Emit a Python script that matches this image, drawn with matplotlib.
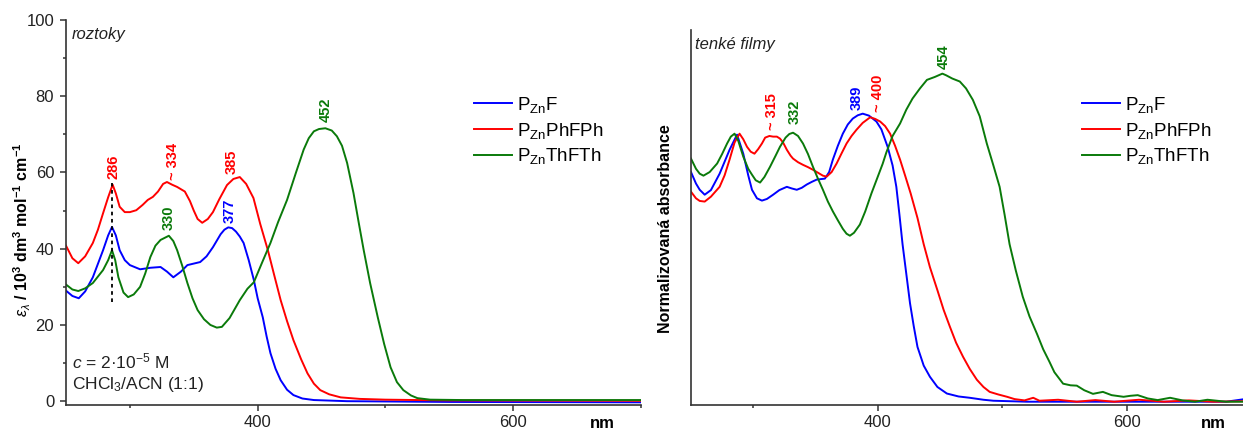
import matplotlib
matplotlib.use("Agg")
import matplotlib.pyplot as plt
from matplotlib.ticker import MultipleLocator, NullLocator

plt.rcParams['font.family'] = ['Liberation Sans', 'DejaVu Sans']
plt.rcParams['mathtext.fontset'] = 'custom'
plt.rcParams['mathtext.rm'] = 'Liberation Sans'
plt.rcParams['mathtext.it'] = 'Liberation Sans:italic'
plt.rcParams['mathtext.bf'] = 'Liberation Sans:bold'

# ---------------- data: solutions (left) ----------------
sol_F_wl = [250, 255, 260, 265, 271, 279, 283, 286, 289, 292, 296, 300, 308, 316, 324, 329, 334, 340, 345, 355,
            360, 365, 371, 374, 377, 380, 383, 386, 389, 393, 397, 400, 404, 407, 410, 414, 418, 423, 428, 435, 444, 470, 550, 700]
sol_F = [29.0, 27.6, 27.0, 28.8, 32.5, 39.6, 43.5, 45.7, 43.5, 39.6, 37.0, 35.7, 34.6, 35.0, 35.2, 34.0, 32.5, 34.0, 35.7, 36.5,
         38.0, 40.4, 43.8, 45.0, 45.6, 45.4, 44.5, 43.2, 41.5, 37.0, 31.8, 27.0, 22.0, 17.0, 12.6, 8.5, 5.5, 3.0, 1.6, 0.7, 0.3, 0.0, -0.2, -0.3]

sol_PhFPh_wl = [250, 255, 259.6, 265, 271, 275, 279, 283, 286.5, 289, 292, 296, 300, 305, 310, 314, 318, 322, 326, 329,
                333, 337, 343, 347, 350, 353, 356.6, 361, 365, 370, 376, 381, 386, 391, 396.7, 402, 408, 413, 418, 423,
                428, 434, 439, 444, 449, 456, 465, 480, 500, 550, 700]
sol_PhFPh = [40.8, 37.5, 36.2, 38.0, 41.5, 45.0, 49.3, 53.5, 56.8, 54.5, 51.0, 49.6, 49.6, 50.1, 51.5, 52.8, 53.6, 55.0, 57.0, 57.5,
             56.8, 56.2, 55.0, 52.5, 50.0, 47.8, 46.8, 47.8, 49.6, 53.0, 56.7, 58.3, 58.8, 57.0, 53.3, 46.5, 39.6, 33.0, 26.5, 21.0,
             16.0, 11.0, 7.3, 4.6, 2.9, 1.8, 1.0, 0.6, 0.4, 0.2, 0.1]

sol_ThFTh_wl = [250, 255, 259.6, 265, 271, 279, 283, 286, 288.5, 291, 295, 298.6, 303, 308, 312, 316, 320, 324, 330.5, 334,
                337, 341, 345, 349, 353, 358, 363, 368, 372, 378, 386, 392, 397, 403, 410, 416, 423, 430, 436, 440, 444,
                448, 453, 458, 462, 466, 470, 475, 479, 483, 488, 494, 499, 504, 509, 514, 520, 525, 535, 560, 700]
sol_ThFTh = [30.6, 29.3, 28.9, 29.6, 31.0, 34.4, 37.0, 39.6, 37.0, 32.5, 28.5, 27.3, 28.0, 30.0, 33.5, 37.8, 40.8, 42.3, 43.4, 42.0,
             39.6, 35.5, 31.0, 27.0, 23.9, 21.5, 20.0, 19.3, 19.5, 21.8, 26.5, 29.5, 31.2, 36.0, 41.5, 47.0, 52.8, 60.0, 66.0, 69.0, 70.8,
             71.4, 71.6, 71.0, 69.5, 67.0, 62.5, 54.6, 47.0, 39.6, 31.0, 22.0, 15.0, 8.9, 5.0, 2.9, 1.5, 0.8, 0.4, 0.3, 0.3]

# ---------------- data: thin films (right) ----------------
film_F_wl = [250, 254, 257, 261, 266, 273, 281, 287, 292, 296, 299, 303, 307, 311, 316, 321, 327, 331, 335, 339,
             343, 347, 351, 357.6, 361, 364, 368, 372, 376, 380, 384, 388, 393, 399, 403, 408, 412, 415, 417.5, 420,
             423, 426, 429, 432, 437, 442, 448, 455.6, 465, 474, 485, 493, 520, 600, 680, 695, 700]
film_F = [0.70, 0.665, 0.646, 0.631, 0.645, 0.695, 0.768, 0.814, 0.756, 0.69, 0.646, 0.62, 0.613, 0.618, 0.631, 0.645, 0.655, 0.650, 0.646, 0.652,
          0.662, 0.670, 0.677, 0.68, 0.70, 0.738, 0.78, 0.817, 0.845, 0.863, 0.873, 0.878, 0.872, 0.854, 0.83, 0.777, 0.72, 0.655, 0.57, 0.48,
          0.39, 0.30, 0.23, 0.167, 0.11, 0.076, 0.045, 0.025, 0.016, 0.012, 0.006, 0.003, 0.0, 0.0, 0.0, 0.008, 0.012]

film_PhFPh_wl = [250, 254, 257, 261, 266, 273, 277, 281, 285, 289, 292, 295, 298, 301, 304, 307, 309.6, 313, 316, 319,
                 321.5, 324, 327, 330, 332, 336, 340, 344, 348, 352, 356, 359, 363, 367, 371, 375, 379, 383, 388, 394,
                 398, 402, 406, 410, 414, 418, 422, 426.5, 432, 437, 442, 448, 453, 458, 463, 468.6, 474, 479.7, 485, 490,
                 497, 504, 510, 518, 525, 530, 545, 560, 575, 590, 610, 630, 650, 670, 700]
film_PhFPh = [0.64, 0.62, 0.612, 0.61, 0.625, 0.655, 0.69, 0.738, 0.79, 0.817, 0.80, 0.777, 0.762, 0.756, 0.77, 0.787, 0.805, 0.81, 0.808, 0.808,
              0.802, 0.79, 0.768, 0.75, 0.741, 0.73, 0.722, 0.715, 0.707, 0.698, 0.689, 0.686, 0.70, 0.726, 0.757, 0.787, 0.81, 0.829, 0.85, 0.867,
              0.862, 0.854, 0.84, 0.817, 0.78, 0.738, 0.69, 0.635, 0.56, 0.48, 0.41, 0.34, 0.28, 0.229, 0.18, 0.137, 0.10, 0.067, 0.045, 0.03,
              0.022, 0.015, 0.008, 0.004, 0.012, 0.003, 0.006, 0.0, 0.005, 0.0, 0.006, 0.0, 0.004, 0.0, 0.002]

film_ThFTh_wl = [250, 254, 257, 260, 265, 271, 275, 279, 282, 285, 288, 292, 296, 299, 302, 305.5, 309, 313.5, 318, 321.5,
                 326, 329, 332, 336, 340, 344, 348, 352, 356, 360, 364, 368, 372, 375, 377.7, 381, 385.7, 390, 395, 400,
                 404, 407, 412, 418, 423, 428, 434, 439.6, 446, 452, 455, 460, 466, 471, 476.5, 482, 487.7, 493, 498, 502,
                 506, 511, 516.6, 522, 528, 533, 538, 542, 546, 549, 555, 560, 566, 573, 581, 588, 597.6, 603, 609, 617,
                 625, 635, 645, 655, 665, 680, 700]
film_ThFTh = [0.741, 0.71, 0.695, 0.689, 0.70, 0.726, 0.755, 0.787, 0.808, 0.817, 0.795, 0.747, 0.71, 0.692, 0.675, 0.668, 0.685, 0.716, 0.75, 0.777,
              0.805, 0.816, 0.820, 0.81, 0.787, 0.755, 0.716, 0.68, 0.646, 0.61, 0.58, 0.553, 0.527, 0.512, 0.506, 0.515, 0.54, 0.58, 0.635, 0.685,
              0.725, 0.76, 0.81, 0.848, 0.89, 0.924, 0.955, 0.981, 0.99, 1.0, 0.995, 0.985, 0.976, 0.955, 0.92, 0.87, 0.787, 0.72, 0.655, 0.57,
              0.48, 0.40, 0.32, 0.26, 0.207, 0.16, 0.122, 0.09, 0.07, 0.055, 0.05, 0.049, 0.035, 0.024, 0.03, 0.02, 0.015, 0.018, 0.02, 0.01,
              0.005, 0.012, 0.004, 0.0, 0.006, 0.0, 0.0]

labels = [r'P$_{\mathrm{Zn}}$F', r'P$_{\mathrm{Zn}}$PhFPh', r'P$_{\mathrm{Zn}}$ThFTh']
colors = ['#0000ff', '#ff0000', '#0a7a0a']

# peak annotations: (text, x, y, colour index)
sol_peaks = [('286', 287, 58.3, 1), ('~ 334', 334, 58.0, 1), ('385', 380, 59.5, 1),
             ('330', 330, 44.9, 2), ('377', 378, 46.7, 0), ('452', 453, 73.2, 2)]
film_peaks = [('~ 315', 315, 0.829, 1), ('332', 333, 0.845, 2), ('389', 383, 0.89, 0),
              ('~ 400', 400, 0.884, 1), ('454', 453, 1.015, 2)]
dash_x = [286, 286]
dash_y = [26.0, 57.3]

W, H = 1243, 430
fig = plt.figure(figsize=(W / 100, H / 100), dpi=100)
axL = fig.add_axes([66 / W, 25 / H, 575 / W, 385 / H])
axR = fig.add_axes([691 / W, 25 / H, 560 / W, 375 / H])

spine_c = '#333333'
for ax in (axL, axR):
    for s in ('top', 'right'):
        ax.spines[s].set_visible(False)
    for s in ('left', 'bottom'):
        ax.spines[s].set_color(spine_c)
        ax.spines[s].set_linewidth(1.2)
    ax.set_xlim(250, 700)
    ax.xaxis.set_major_locator(MultipleLocator(200))
    ax.xaxis.set_minor_locator(MultipleLocator(100))
    ax.tick_params(axis='both', which='major', direction='out', length=4.5, width=1.1,
                   color=spine_c, labelsize=12, pad=2.5, labelcolor='#222222')
    ax.tick_params(axis='both', which='minor', direction='out', length=2.5, width=1.1, color=spine_c)

# left panel
lw = 1.4
for wl, val, lab, c in zip([sol_F_wl, sol_PhFPh_wl, sol_ThFTh_wl], [sol_F, sol_PhFPh, sol_ThFTh], labels, colors):
    axL.plot(wl, val, color=c, lw=lw, label=lab)
axL.plot(dash_x, dash_y, color='black', ls=(0, (2, 2)), lw=1.3)
axL.set_ylim(-1, 100)
axL.yaxis.set_major_locator(MultipleLocator(20))
axL.yaxis.set_minor_locator(MultipleLocator(10))
axL.tick_params(axis='y', which='major', pad=4)
for t, x, y, ci in sol_peaks:
    axL.text(x, y, t, rotation=90, ha='center', va='bottom', color=colors[ci],
             fontsize=10.5, fontweight='bold')
legL = axL.legend(loc='upper left', bbox_to_anchor=(474 / W, 1 - 95 / H), bbox_transform=fig.transFigure,
                  frameon=False, fontsize=13.5, handlelength=2.0, handletextpad=0.3, labelspacing=0.3,
                  borderpad=0, borderaxespad=0)

# right panel
for wl, val, lab, c in zip([film_F_wl, film_PhFPh_wl, film_ThFTh_wl], [film_F, film_PhFPh, film_ThFTh], labels, colors):
    axR.plot(wl, val, color=c, lw=lw, label=lab)
axR.set_ylim(-0.01, 1.133)
axR.yaxis.set_major_locator(NullLocator())
axR.yaxis.set_minor_locator(NullLocator())
for t, x, y, ci in film_peaks:
    axR.text(x, y, t, rotation=90, ha='center', va='bottom', color=colors[ci],
             fontsize=10.5, fontweight='bold')
legR = axR.legend(loc='upper left', bbox_to_anchor=(1082 / W, 1 - 95 / H), bbox_transform=fig.transFigure,
                  frameon=False, fontsize=13.5, handlelength=2.0, handletextpad=0.3, labelspacing=0.3,
                  borderpad=0, borderaxespad=0)

# texts
fig.text(72 / W, 1 - 34 / H, 'roztoky', style='italic', fontsize=12, va='center', ha='left', color='#222222')
fig.text(695 / W, 1 - 45 / H, 'tenké filmy', style='italic', fontsize=12, va='center', ha='left', color='#222222')
fig.text(72 / W, 1 - 361 / H, r'$\mathit{c}$ = 2·10$^{-5}$ M', fontsize=12.5, va='center', ha='left', color='#222222')
fig.text(72 / W, 1 - 385 / H, r'CHCl$_3$/ACN (1:1)', fontsize=12.5, va='center', ha='left', color='#222222')
fig.text(22 / W, 1 - 230 / H,
         r'$\mathit{\varepsilon}_{\lambda}$$\mathbf{\ /\ 10^3\ dm^3\ mol^{-1}\ cm^{-1}}$',
         rotation=90, fontsize=11.5, va='center', ha='center', color='black')
fig.text(666 / W, 1 - 229 / H, 'Normalizovaná absorbance', rotation=90, fontsize=11.5,
         fontweight='bold', va='center', ha='center', color='black')
fig.text(602 / W, 1 - 423 / H, 'nm', fontsize=12, fontweight='bold', va='center', ha='center')
fig.text(1213 / W, 1 - 423 / H, 'nm', fontsize=12, fontweight='bold', va='center', ha='center')

fig.savefig('out.png', dpi=100)
